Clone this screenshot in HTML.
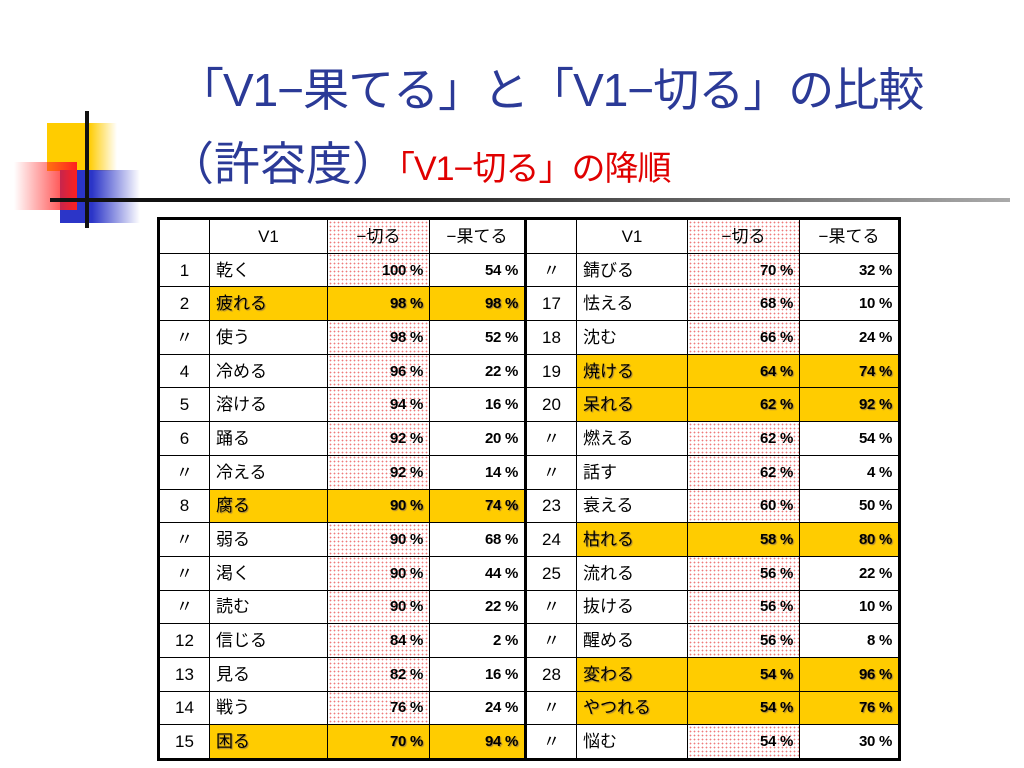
<!DOCTYPE html>
<html><head><meta charset="utf-8">
<style>
body{margin:0;width:1024px;height:768px;background:#fff;position:relative;overflow:hidden;font-family:"Liberation Sans","Noto Sans CJK JP",sans-serif;}
.abs{position:absolute}
#title1{left:178px;top:54px;font-size:46px;color:#2b3a97;white-space:nowrap;letter-spacing:-1px}
#title2{left:168px;top:128px;font-size:46px;color:#2b3a97;white-space:nowrap}
#title2 span{font-size:34px;color:#e00000;letter-spacing:-1px}
table{position:absolute;left:157px;top:217px;border-collapse:collapse;table-layout:fixed;font-size:17px;border:3px solid #000}
td{border:1.5px solid #000;height:32.7px;padding:0 6px;white-space:nowrap;overflow:hidden;line-height:1;vertical-align:middle}
.c{text-align:center}.r{text-align:right;font-size:15px;font-weight:bold;letter-spacing:-0.3px}
.pink{background-color:#fff;background-image:radial-gradient(#ee7a7a 0.7px,transparent 1px);background-size:4px 4px}
.y{background:#ffcc00 !important;background-image:none !important;text-shadow:1px 1px 1px #a08040}
.sep{border-right:3px solid #000}
</style></head><body>
<div class="abs" style="left:47px;top:123px;width:70px;height:48px;background:linear-gradient(90deg,#ffcc00 60%,rgba(255,204,0,0))"></div>
<div class="abs" style="left:60px;top:170px;width:80px;height:53px;background:linear-gradient(90deg,#2b35c8 40%,rgba(43,53,200,0))"></div>
<div class="abs" style="left:14px;top:162px;width:63px;height:48px;background:linear-gradient(90deg,rgba(255,30,30,0),#ff2020)"></div>
<div class="abs" style="left:85px;top:111px;width:4px;height:117px;background:#111"></div>
<div class="abs" style="left:50px;top:198px;width:960px;height:4px;background:linear-gradient(90deg,#111 30%,#aaa 100%)"></div>
<div class="abs" id="title1">「V1−果てる」と「V1−切る」の比較</div>
<div class="abs" id="title2">（許容度）<span>「V1−切る」の降順</span></div>
<table id="tbl">
<colgroup><col style="width:51px"><col style="width:118px"><col style="width:102px"><col style="width:96px"><col style="width:51px"><col style="width:111px"><col style="width:112px"><col style="width:100px"></colgroup>
<tbody id="tb"></tbody></table>
<script>
const ranksL=["1","2","〃","4","5","6","〃","8","〃","〃","〃","12","13","14","15"];
const verbsL=["乾く","疲れる","使う","冷める","溶ける","踊る","冷える","腐る","弱る","渇く","読む","信じる","見る","戦う","困る"];
const kiruL=[100,98,98,96,94,92,92,90,90,90,90,84,82,76,70];
const hateL=[54,98,52,22,16,20,14,74,68,44,22,2,16,24,94];
const hlL=[0,1,0,0,0,0,0,1,0,0,0,0,0,0,1];
const ranksR=["〃","17","18","19","20","〃","〃","23","24","25","〃","〃","28","〃","〃"];
const verbsR=["錆びる","怯える","沈む","焼ける","呆れる","燃える","話す","衰える","枯れる","流れる","抜ける","醒める","変わる","やつれる","悩む"];
const kiruR=[70,68,66,64,62,62,62,60,58,56,56,56,54,54,54];
const hateR=[32,10,24,74,92,54,4,50,80,22,10,8,96,76,30];
const hlR=[0,0,0,1,1,0,0,0,1,0,0,0,1,1,0];
const tb=document.getElementById('tb');
function cell(tr,txt,cls,name){const td=document.createElement('td');td.className=cls;td.textContent=txt;


tr.appendChild(td);}
let h=document.createElement('tr');


cell(h,"","c","header-rank");cell(h,"V1","c","header-v1");cell(h,"−切る","c pink","header-kiru");cell(h,"−果てる","c sep","header-hateru");
cell(h,"","c","header-rank");cell(h,"V1","c","header-v1");cell(h,"−切る","c pink","header-kiru");cell(h,"−果てる","c","header-hateru");
tb.appendChild(h);
for(let i=0;i<verbsL.length;i++){
 const tr=document.createElement('tr');
 
 
 const yl=hlL[i]?' y':'',yr=hlR[i]?' y':'';
 cell(tr,ranksL[i],"c","rank");cell(tr,verbsL[i],""+yl,"verb");
 cell(tr,kiruL[i]+" %","r pink"+yl,"kiru-value");cell(tr,hateL[i]+" %","r sep"+yl,"hateru-value");
 cell(tr,ranksR[i],"c","rank");cell(tr,verbsR[i],""+yr,"verb");
 cell(tr,kiruR[i]+" %","r pink"+yr,"kiru-value");cell(tr,hateR[i]+" %","r"+yr,"hateru-value");
 tb.appendChild(tr);
}
</script>
</body></html>
